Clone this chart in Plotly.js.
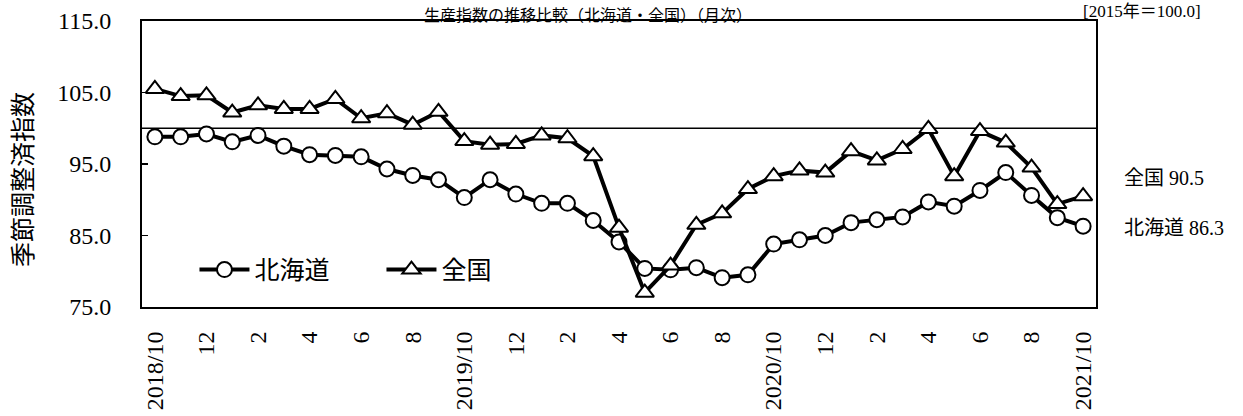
<!DOCTYPE html>
<html>
<head>
<meta charset="utf-8">
<script src="https://cdn.plot.ly/plotly-3.0.1.min.js"></script>
<style>html,body{margin:0;padding:0;background:#fff;}#chart{width:1243px;height:416px;}</style>
</head>
<body>
<div id="chart"></div>
<script>
const months = ["2018/10","2018/11","2018/12","2019/01","2019/02","2019/03","2019/04","2019/05","2019/06","2019/07","2019/08","2019/09",
  "2019/10","2019/11","2019/12","2020/01","2020/02","2020/03","2020/04","2020/05","2020/06","2020/07","2020/08","2020/09",
  "2020/10","2020/11","2020/12","2021/01","2021/02","2021/03","2021/04","2021/05","2021/06","2021/07","2021/08","2021/09","2021/10"];
const tickMonths = ["2018/10","2018/12","2019/02","2019/04","2019/06","2019/08","2019/10","2019/12","2020/02","2020/04","2020/06","2020/08","2020/10","2020/12","2021/02","2021/04","2021/06","2021/08","2021/10"];
const tickLabels = ["2018/10","12","2","4","6","8","2019/10","12","2","4","6","8","2020/10","12","2","4","6","8","2021/10"];
const hokkaido = [98.8,98.8,99.2,98.1,99.0,97.5,96.3,96.2,96.0,94.3,93.4,92.8,90.3,92.8,90.8,89.5,89.5,87.1,84.1,80.4,80.2,80.5,79.1,79.5,83.8,84.4,85.0,86.8,87.2,87.6,89.7,89.1,91.3,93.8,90.6,87.5,86.3];
const zenkoku = [105.5,104.5,104.6,102.2,103.2,102.7,102.7,104.1,101.4,102.1,100.5,102.3,98.2,97.7,97.8,99.0,98.6,96.1,86.1,77.0,80.8,86.5,88.1,91.5,93.3,94.1,93.8,96.8,95.5,97.1,99.9,93.3,99.6,98.0,94.5,89.4,90.5];
const seriesNames = ["北海道","全国"];
const baseLine = 100;
const yTicks = [75,85,95,105,115];

const SERIF = "Liberation Serif, 'Noto Sans CJK JP', serif";
const CJK = "'Noto Sans CJK JP', 'Liberation Serif', sans-serif";

const traces = [
  {x: months, y: hokkaido, name: seriesNames[0], type: "scatter", mode: "lines+markers",
   line: {color: "#000", width: 4},
   marker: {symbol: "circle", size: 15, color: "#fff", line: {color: "#000", width: 2}}},
  {x: months, y: zenkoku, name: seriesNames[1], type: "scatter", mode: "lines+markers",
   line: {color: "#000", width: 4},
   marker: {symbol: "triangle-up", size: 16, color: "#fff", line: {color: "#000", width: 2}}}
];

const last = hokkaido.length - 1;
const layout = {
  width: 1243, height: 416,
  margin: {l: 142, r: 147, t: 21, b: 109},
  paper_bgcolor: "#fff", plot_bgcolor: "#fff",
  showlegend: true,
  legend: {orientation: "h", x: 0.055, y: 0.13, xanchor: "left", yanchor: "middle",
    bgcolor: "rgba(0,0,0,0)", font: {family: CJK, size: 25, color: "#000"},
    itemwidth: 50, entrywidth: 122, entrywidthmode: "pixels"},
  xaxis: {type: "category", categoryorder: "array", categoryarray: months,
    range: [-0.5, months.length - 0.5],
    tickmode: "array", tickvals: tickMonths, ticktext: tickLabels, tickangle: -90,
    ticks: "", ticklabelstandoff: 13,
    tickfont: {family: SERIF, size: 24, color: "#000"},
    showline: true, mirror: true, linecolor: "#000", linewidth: 2,
    showgrid: false, zeroline: false, fixedrange: true},
  yaxis: {range: [75, 115], tickmode: "array", tickvals: yTicks, tickformat: ".1f",
    ticks: "inside", ticklen: 6, tickwidth: 1.5, tickcolor: "#000",
    ticklabelstandoff: 24,
    tickfont: {family: SERIF, size: 24, color: "#000"},
    showline: true, mirror: true, linecolor: "#000", linewidth: 2,
    showgrid: false, zeroline: false, fixedrange: true},
  shapes: [{type: "line", xref: "paper", x0: 0, x1: 1, yref: "y", y0: baseLine, y1: baseLine,
    line: {color: "#000", width: 1.5}, layer: "below"}],
  annotations: [
    {text: "生産指数の推移比較（北海道・全国）（月次）", xref: "paper", yref: "paper",
     x: (588 - 142) / 954, y: (307 - 1) / 286, xanchor: "center", yanchor: "top", showarrow: false,
     borderpad: 0, font: {family: CJK, size: 16, color: "#000"}},
    {text: "[2015年＝100.0]", xref: "paper", yref: "paper",
     x: (1142 - 142) / 954, y: (307 - 1) / 286, xanchor: "center", yanchor: "top", showarrow: false,
     borderpad: 0, font: {family: SERIF, size: 17, color: "#000"}},
    {text: "季節調整済指数", xref: "paper", yref: "paper", x: (21 - 142) / 954, y: 0.444,
     xanchor: "center", yanchor: "middle", textangle: -90, showarrow: false,
     font: {family: CJK, size: 25, color: "#000"}},
    {text: seriesNames[1] + " " + zenkoku[last].toFixed(1), xref: "paper", yref: "paper",
     x: 1.027, y: 0.451, xanchor: "left", yanchor: "middle", showarrow: false,
     font: {family: SERIF, size: 20, color: "#000"}},
    {text: seriesNames[0] + " " + hokkaido[last].toFixed(1), xref: "paper", yref: "paper",
     x: 1.027, y: 0.276, xanchor: "left", yanchor: "middle", showarrow: false,
     font: {family: SERIF, size: 20, color: "#000"}}
  ]
};

Plotly.newPlot("chart", traces, layout, {staticPlot: true, displayModeBar: false});
</script>
</body>
</html>
